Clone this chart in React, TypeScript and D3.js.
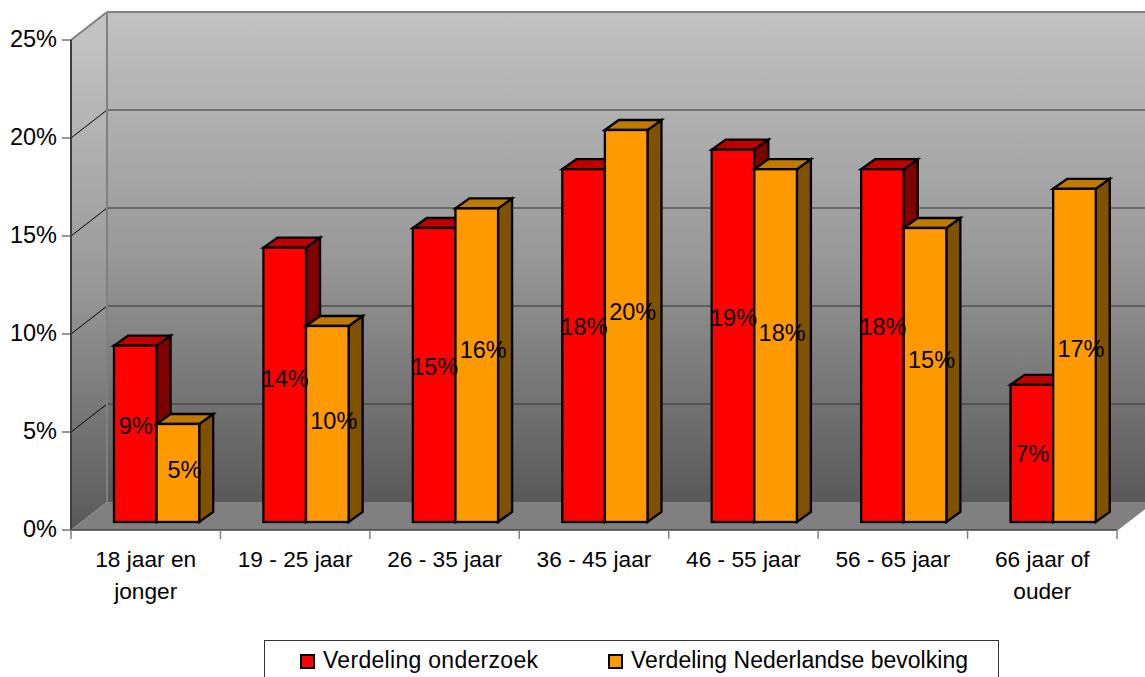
import React from "react";
import * as d3 from "d3";

const categories = [
  ["18 jaar en", "jonger"],
  ["19 - 25 jaar"],
  ["26 - 35 jaar"],
  ["36 - 45 jaar"],
  ["46 - 55 jaar"],
  ["56 - 65 jaar"],
  ["66 jaar of", "ouder"],
];
const onderzoek = [9, 14, 15, 18, 19, 18, 7];
const bevolking = [5, 10, 16, 20, 18, 15, 17];
const yTicks = [0, 5, 10, 15, 20, 25];
const seriesNames = ["Verdeling onderzoek", "Verdeling Nederlandse bevolking"];

// small vertical corrections for the data labels, which sit unevenly in the picture
const labelNudgeOnderzoek = [-5, 5, 4, -2, 0, -2, 0];
const labelNudgeBevolking = [0, 4, -4, 0, 0, -4, 6];

const FONT = "'Liberation Sans', Arial, sans-serif";
const W = 1145, H = 677;
const x0 = 71, x1 = 1117, yBottom = 530, yTop = 40;
const wallDx = 36, wallDy = -28;
const barDx = 14, barDy = -10;
const barW = 42.6;
const barInset = 43;
const barDrop = 8;

const y = d3.scaleLinear().domain([0, 25]).range([yBottom, yTop]);
const xBand = d3.scaleBand<number>().domain(d3.range(categories.length)).range([x0, x1]);

const seriesStyle = [
  { values: onderzoek, nudge: labelNudgeOnderzoek, front: "#ff0000", top: "#c00000", side: "#800000", labelDx: 0.5,
    labelY: d3.scaleLinear().domain([7, 19]).range([453, 317]) },
  { values: bevolking, nudge: labelNudgeBevolking, front: "#ff9900", top: "#c07a00", side: "#805200", labelDx: 6.5,
    labelY: d3.scaleLinear().domain([5, 20]).range([469, 311]) },
];

const poly = (pts: [number, number][]) => pts.map((p) => p.join(",")).join(" ");

export default function App() {
  const bx = x0 + wallDx, bxEnd = x1 + wallDx;
  return (
    <svg width={W} height={H} viewBox={`0 0 ${W} ${H}`}
      style={{ position: "absolute", left: 0, top: 0, display: "block", background: "#fff" }}
      fontFamily={FONT}>
      <defs>
        <linearGradient id="backWall" gradientUnits="userSpaceOnUse" x1="0" x2="0" y1={y(25) + wallDy} y2={y(0) + wallDy}>
          <stop offset="0" stopColor="#c2c2c2" />
          <stop offset="0.5" stopColor="#989898" />
          <stop offset="1" stopColor="#595959" />
        </linearGradient>
        <linearGradient id="sideWall" gradientUnits="userSpaceOnUse" x1="0" x2="0" y1={y(25)} y2={y(0)}>
          <stop offset="0" stopColor="#c2c2c2" />
          <stop offset="0.5" stopColor="#989898" />
          <stop offset="1" stopColor="#595959" />
        </linearGradient>
      </defs>

      <rect x={bx} y={y(25) + wallDy} width={bxEnd - bx} height={y(0) - y(25)} fill="url(#backWall)" />
      <polygon fill="url(#sideWall)"
        points={poly([[x0, y(25)], [bx, y(25) + wallDy], [bx, y(0) + wallDy], [x0, y(0)]])} />
      <polygon fill="#808080"
        points={poly([[x0, y(0)], [bx, y(0) + wallDy], [bxEnd, y(0) + wallDy], [x1, y(0)]])} />

      {yTicks.filter((t) => t > 0 && t < 25).map((t) => (
        <g key={t} stroke="#333" strokeWidth={1}>
          <line x1={bx} x2={bxEnd} y1={y(t) + wallDy} y2={y(t) + wallDy} />
          <line x1={x0} x2={bx} y1={y(t)} y2={y(t) + wallDy} stroke="#000" />
        </g>
      ))}
      <line x1={bx} x2={bxEnd} y1={y(25) + wallDy} y2={y(25) + wallDy} stroke="#808080" strokeWidth={2} />
      <line x1={bx} x2={bx} y1={y(25) + wallDy} y2={y(0) + wallDy} stroke="#808080" strokeWidth={2} />
      <line x1={x0} x2={bx} y1={y(25)} y2={y(25) + wallDy} stroke="#808080" strokeWidth={2} />
      <line x1={x1} x2={bxEnd} y1={y(0)} y2={y(0) + wallDy} stroke="#808080" strokeWidth={1.5} />

      {categories.map((_, i) =>
        seriesStyle.map((s, k) => {
          const left = xBand(i)! + barInset + k * barW;
          const right = left + barW;
          const top = y(s.values[i]) - barDrop;
          const base = y(0) - barDrop;
          return (
            <g key={`${i}-${k}`} stroke="#000" strokeWidth={2.3} strokeLinejoin="miter">
              <polygon fill={s.side} points={poly([[right, top], [right + barDx, top + barDy], [right + barDx, base + barDy], [right, base]])} />
              <polygon fill={s.top} points={poly([[left, top], [left + barDx, top + barDy], [right + barDx, top + barDy], [right, top]])} />
              <rect x={left} y={top} width={barW} height={base - top} fill={s.front} />
            </g>
          );
        })
      )}

      {categories.map((_, i) =>
        seriesStyle.map((s, k) => {
          const left = xBand(i)! + barInset + k * barW;
          return (
            <text key={`${i}-${k}`} x={left + barW / 2 + s.labelDx} y={s.labelY(s.values[i]) + s.nudge[i] + 8.5}
              textAnchor="middle" fontSize={23.5} fill="#000">{s.values[i]}%</text>
          );
        })
      )}

      <line x1={x0} x2={x0} y1={y(25)} y2={y(0)} stroke="#404040" strokeWidth={2} />
      <line x1={x0} x2={x1} y1={y(0)} y2={y(0)} stroke="#404040" strokeWidth={1.5} />
      {yTicks.map((t) => (
        <g key={t}>
          <line x1={x0 - 9} x2={x0} y1={y(t)} y2={y(t)} stroke="#333" strokeWidth={1} />
          <text x={x0 - 14} y={y(t) + 7} textAnchor="end" fontSize={23.5} fill="#000">{t}%</text>
        </g>
      ))}
      {d3.range(categories.length + 1).map((i) => {
        const tx = x0 + xBand.step() * i;
        return <line key={i} x1={tx} x2={tx} y1={y(0)} y2={y(0) + 9} stroke="#808080" strokeWidth={1.5} />;
      })}
      {categories.map((lines, i) => (
        <text key={i} textAnchor="middle" fontSize={22.7} fill="#000">
          {lines.map((l, j) => (
            <tspan key={j} x={xBand(i)! + xBand.bandwidth() / 2} y={567 + j * 31.5}>{l}</tspan>
          ))}
        </text>
      ))}

      <rect x={264.5} y={640.5} width={734} height={60} fill="#fff" stroke="#333" strokeWidth={1} />
      {seriesNames.map((n, k) => {
        const lx = k === 0 ? 300 : 608;
        return (
          <g key={n}>
            <rect x={lx + 1} y={655} width={13} height={13} fill={seriesStyle[k].front} stroke="#000" strokeWidth={2} />
            <text x={lx + 23} y={668} fontSize={23} fill="#000" textLength={k === 0 ? 215 : 337}>{n}</text>
          </g>
        );
      })}
    </svg>
  );
}
